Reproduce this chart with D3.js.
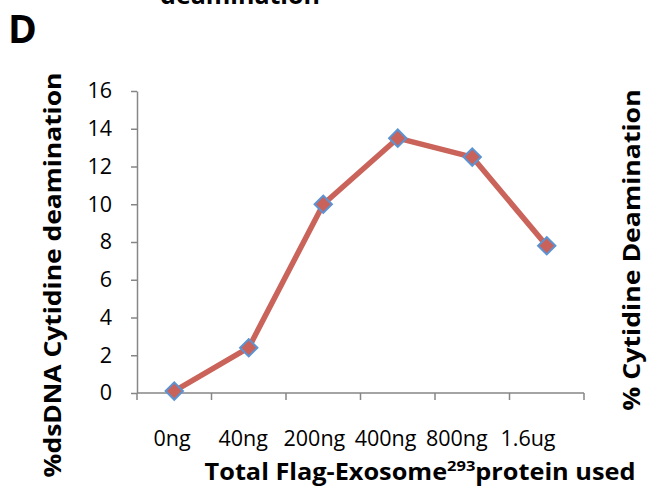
<!DOCTYPE html>
<html><head><meta charset="utf-8">
<script src="https://cdn.jsdelivr.net/npm/d3@7"></script>
<style>body{margin:0;background:#fff}svg{display:block}text{font-family:"Open Sans",Lato,sans-serif}</style>
</head><body><svg width="663" height="492"></svg>
<script>
const categories = ["0ng","40ng","200ng","400ng","800ng","1.6ug"];
const values = [0.1, 2.4, 10.0, 13.5, 12.5, 7.8];
const yTicks = [0,2,4,6,8,10,12,14,16];

(function(){
const svg = d3.select("svg");
const mLeft = 137, mRight = 584, mTop = 91, mBottom = 393;
const x = d3.scaleBand().domain(categories).range([mLeft, mRight]);
const y = d3.scaleLinear().domain([0,16]).range([mBottom, mTop]);
// labels in reference sit on a slightly tighter spacing
const xl = d3.scalePoint().domain(categories).range([172, 528]);

// y axis
const ya = svg.append("g").attr("transform",`translate(${mLeft},0)`)
  .call(d3.axisLeft(y).tickValues(yTicks).tickSize(6).tickPadding(19).tickSizeOuter(0));
ya.select(".domain").attr("stroke","#868686").attr("stroke-width",1.5);
ya.selectAll(".tick line").attr("stroke","#868686").attr("stroke-width",1.5);
ya.selectAll(".tick text").attr("font-size",21.5).attr("fill","#000").attr("font-family","Open Sans");

// x axis with ticks at band boundaries
const bounds = categories.map(c => x(c)).concat([x.range()[1]]);
const xa = svg.append("g").attr("transform",`translate(0,${mBottom})`);
xa.append("line").attr("x1",mLeft).attr("x2",mRight).attr("stroke","#868686").attr("stroke-width",1.5);
xa.selectAll("line.t").data(bounds).join("line").attr("class","t")
  .attr("x1",d=>d).attr("x2",d=>d).attr("y1",0).attr("y2",7)
  .attr("stroke","#868686").attr("stroke-width",1.5);
svg.append("g").selectAll("text").data(categories).join("text")
  .attr("x",d=>xl(d)).attr("y",446).attr("text-anchor","middle")
  .attr("font-size",21.5).text(d=>d);

// line
const line = d3.line().x((d,i)=>x(categories[i])+x.bandwidth()/2).y(d=>y(d));
svg.append("path").datum(values).attr("d",line).attr("fill","none")
  .attr("stroke","#CA6359").attr("stroke-width",5.5).attr("stroke-linejoin","round");
svg.append("g").selectAll("path").data(values).join("path")
  .attr("transform",(d,i)=>`translate(${x(categories[i])+x.bandwidth()/2},${y(d)}) rotate(45)`)
  .attr("d", d3.symbol().type(d3.symbolSquare).size(150))
  .attr("fill","#C9625A").attr("stroke","#5B93D3").attr("stroke-width",2);

// titles
svg.append("text").attr("transform","translate(61,275) rotate(-90) scale(1.15,1)").attr("text-anchor","middle")
  .attr("font-size",23).attr("font-weight","bold").text("%dsDNA Cytidine deamination");
svg.append("text").attr("transform","translate(640,250) rotate(-90) scale(1.16,1)").attr("text-anchor","middle")
  .attr("font-size",23).attr("font-weight","bold").text("% Cytidine Deamination");
const xt = svg.append("text").attr("transform","translate(420,480) scale(1.1,1)").attr("text-anchor","middle")
  .attr("font-size",23).attr("font-weight","bold");
xt.append("tspan").text("Total Flag-Exosome");
xt.append("tspan").attr("font-size",15).attr("dy",-9).text("293");
xt.append("tspan").attr("dy",9).text("protein used");
svg.append("text").attr("x",8).attr("y",43).attr("font-size",39).attr("font-weight","bold").text("D");
svg.append("text").attr("x",240).attr("y",4).attr("text-anchor","middle")
  .attr("font-size",25).attr("font-weight","bold").text("deamination");
})();
</script></body></html>
